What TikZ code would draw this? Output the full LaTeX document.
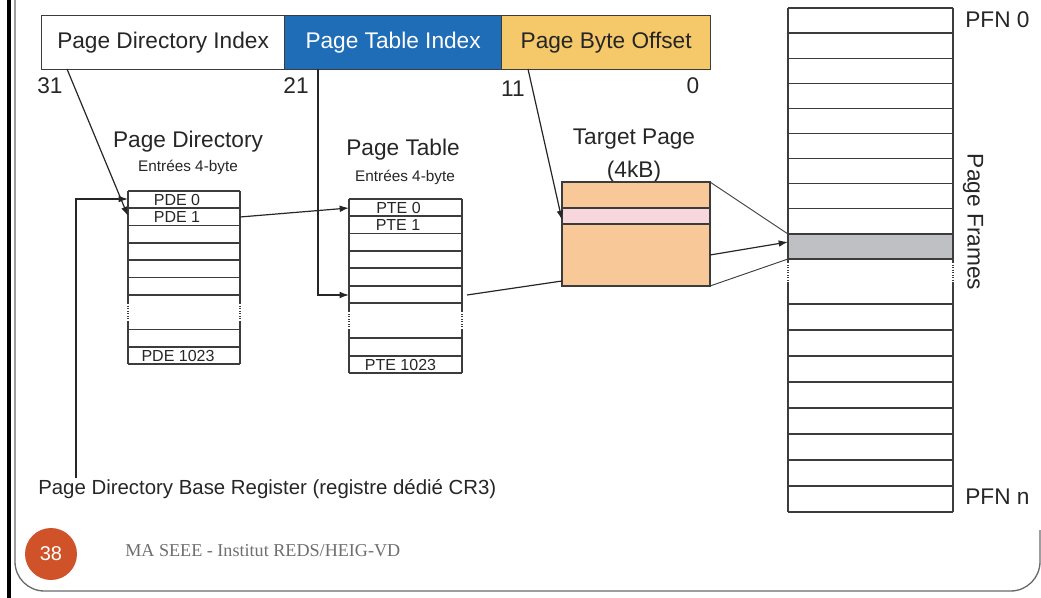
\documentclass[tikz,border=0pt]{standalone}
\usepackage{fontspec}
\setmainfont{Liberation Sans}
\newfontfamily\footfont{Liberation Serif}
\usetikzlibrary{arrows.meta}

\definecolor{ink}{HTML}{262626}
\definecolor{rule}{HTML}{3C3C3C}
\definecolor{pdblue}{HTML}{1F6DB6}
\definecolor{offyellow}{HTML}{F5C86A}
\definecolor{peach}{HTML}{F8C899}
\definecolor{rosy}{HTML}{F7D6DC}
\definecolor{framegray}{HTML}{BFC0C3}
\definecolor{badge}{HTML}{CF5229}
\definecolor{border}{HTML}{6A6A6A}
\definecolor{foot}{HTML}{6E6E6E}

\begin{document}
\begin{tikzpicture}[x=0.75pt,y=-0.75pt,
  field/.style={draw=rule, line width=0.9pt, inner sep=0pt, anchor=north west,
                minimum height=40.5pt, text=ink, font=\fontsize{17}{19}\selectfont},
  grid/.style={draw=rule, line width=0.9pt},
  gap/.style={draw=rule, line width=0.9pt, densely dotted},
  conn/.style={draw=ink, line width=0.9pt},
  arr/.style={conn, -{Latex[length=7pt,width=5pt]}},
  thin/.style={draw=rule, line width=0.7pt},
  lbl/.style={text=ink, inner sep=0pt, font=\fontsize{17}{19}\selectfont},
  sub/.style={text=ink, inner sep=0pt, font=\fontsize{11.5}{13}\selectfont},
  cell/.style={text=ink, inner sep=0pt, font=\fontsize{12}{12}\selectfont}]
\useasboundingbox (0,0) rectangle (1041,598);

% slide frame
\fill[black] (7,0) rectangle (10.5,598);
\draw[border, line width=1pt, rounded corners=22pt]
  (15,-5) -- (15,591) -- (1040,591) -- (1040,530);

% linear address fields
\node[field, fill=white, minimum width=182.25pt] (pdi) at (41,15) {Page Directory Index};
\node[field, fill=pdblue, text=white, minimum width=162.75pt] (pti) at (284,15) {Page Table Index};
\node[field, fill=offyellow, minimum width=156.75pt] (pbo) at (501,15) {Page Byte Offset};

\node[lbl] (b31) at (50,86) {31};
\node[lbl] (b21) at (296,86) {21};
\node[lbl] (b11) at (513,89) {11};
\node[lbl] (b0)  at (693,86) {0};

% page directory
\node[lbl] (pdt) at (188,142) {Page Directory};
\node[sub] (pds) at (188,167) {Entrées 4-byte};
\foreach \y in {191,208,225.5,243,260,277.5,295,329.5,347,364}
  \draw[grid] (128,\y) -- (240,\y);
\draw[grid] (128,191) -- (128,303) (240,191) -- (240,303);
\draw[gap]  (128,303) -- (128,321) (240,303) -- (240,321);
\draw[grid] (128,321) -- (128,364) (240,321) -- (240,364);
\node[cell] (pde0) at (177,199.5) {PDE 0};
\node[cell] (pde1) at (177,216.5) {PDE 1};
\node[cell] (pden) at (178,355.5) {PDE 1023};

% page table
\node[lbl] (ptt) at (403,150) {Page Table};
\node[sub] (pts) at (405,177) {Entrées 4-byte};
\foreach \y in {199,216,233.5,251,268,286,303,338,356,373}
  \draw[grid] (349,\y) -- (462,\y);
\draw[grid] (349,199) -- (349,311) (462,199) -- (462,311);
\draw[gap]  (349,311) -- (349,329) (462,311) -- (462,329);
\draw[grid] (349,329) -- (349,373) (462,329) -- (462,373);
\node[cell] (pte0) at (398.5,207.5) {PTE 0};
\node[cell] (pte1) at (398,224.5) {PTE 1};
\node[cell] (pten) at (400.5,364.5) {PTE 1023};

% target page
\node[lbl] (tpt) at (634,139) {Target Page};
\node[lbl] (tps) at (634,172) {(4kB)};
\fill[peach] (562,182) rectangle (710,286);
\fill[rosy] (562,208) rectangle (710,224);
\draw[grid] (562,182) rectangle (710,286);
\draw[grid] (562,208) -- (710,208) (562,224) -- (710,224);

% physical page frames
\fill[framegray] (788,234) rectangle (953,259);
\foreach \y in {8,33.1,58.2,83.3,108.4,133.5,158.6,183.7,208.8,234,259,304,330,356,382,408,434,460,486,512}
  \draw[grid] (788,\y) -- (953,\y);
\draw[grid] (788,8) -- (788,262) (953,8) -- (953,262);
\draw[gap]  (788,262) -- (788,283) (953,262) -- (953,283);
\draw[grid] (788,283) -- (788,512) (953,283) -- (953,512);
\node[lbl, anchor=west] (pfn0) at (965,20) {PFN 0};
\node[lbl, anchor=west] (pfnn) at (965,497) {PFN n};
\node[lbl, rotate=-90] (pfr) at (973,222) {Page Frames};

% register label
\node[lbl, anchor=west, font=\fontsize{15.3}{17}\selectfont] (cr3) at (38,489) {Page Directory Base Register (registre dédié CR3)};

% connector end points
\coordinate (pdiTap) at (67,69);
\coordinate (ptiTap) at (318,69);
\coordinate (pboTap) at (528,69);
\coordinate (pd0In) at (128,199);
\coordinate (pd1In) at (128,216);
\coordinate (pd1Out) at (240,217);
\coordinate (pt0In) at (349,208);
\coordinate (pt5In) at (349,295);
\coordinate (pt5Out) at (467,295);
\coordinate (tpIn) at (562,281);
\coordinate (tpByte) at (562,220);
\coordinate (tpOut) at (710,255);
\coordinate (tpNE) at (710,182);
\coordinate (tpSE) at (710,286);
\coordinate (frIn) at (788,242);
\coordinate (frNW) at (788,234);
\coordinate (frSW) at (788,259);
\coordinate (cr3Tap) at (76,478);

% connectors
\draw[arr] (pdiTap) -- (pd1In);
\draw[arr] (cr3Tap) |- (pd0In);
\draw[arr] (pd1Out) -- (pt0In);
\draw[arr] (ptiTap) |- (pt5In);
\draw[conn] (pt5Out) -- (tpIn);
\draw[arr] (pboTap) -- (tpByte);
\draw[arr] (tpOut) -- (frIn);
\draw[thin] (tpNE) -- (frNW);
\draw[thin] (tpSE) -- (frSW);

% footer
\fill[badge] (51,554) circle[radius=19.5pt];
\node[text=white, inner sep=0pt, font=\fontsize{15}{16}\selectfont] (pg) at (51,554) {38};
\node[anchor=west, inner sep=0pt, text=foot, font=\footfont\fontsize{13.6}{15}\selectfont] (ft) at (125,551) {MA SEEE - Institut REDS/HEIG-VD};
\end{tikzpicture}
\end{document}
